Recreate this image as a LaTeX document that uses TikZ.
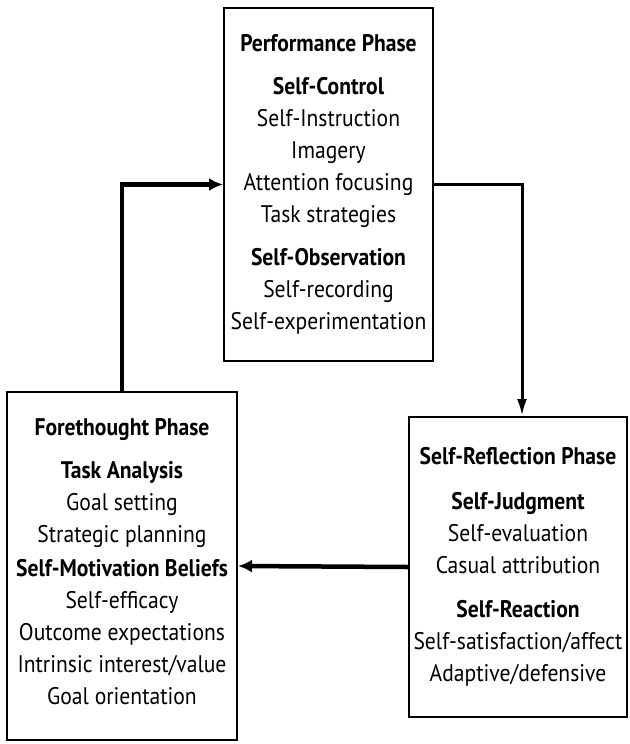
\documentclass[tikz,border=0pt]{standalone}
\usepackage{fontspec}
\setmainfont{PT Sans}[FakeStretch=0.9]
\usetikzlibrary{arrows.meta}

\tikzset{
  phase/.style={draw=black, line width=2pt, fill=white, align=center,
    inner sep=0pt, font=\fontsize{24}{32}\selectfont},
  flow/.style={line width=4.5pt, -{Latex[length=14pt,width=13pt]}},
  thinflow/.style={line width=3pt, -{Latex[length=17pt,width=10pt]}}
}

\begin{document}
\begin{tikzpicture}[x=1pt, y=-1pt]
  \useasboundingbox (0,0) rectangle (629,744);

  % the three phases of the cycle
  \node[phase, minimum width=209pt, minimum height=353pt] (perf) at (328.5,184.5)
    {\textbf{Performance Phase}\\[11pt]
     \textbf{Self-Control}\\
     Self-Instruction\\
     Imagery\\
     Attention focusing\\
     Task strategies\\[11pt]
     \textbf{Self-Observation}\\
     Self-recording\\
     Self-experimentation};

  \node[phase, minimum width=230pt, minimum height=348pt] (fore) at (122,566)
    {\textbf{Forethought Phase}\\[11pt]
     \textbf{Task Analysis}\\
     Goal setting\\
     Strategic planning\\[2pt]
     \textbf{Self-Motivation Beliefs}\\
     Self-efficacy\\
     Outcome expectations\\
     Intrinsic interest/value\\
     Goal orientation\\[-22pt]\mbox{}};

  \node[phase, minimum width=218pt, minimum height=300pt] (refl) at (518,567)
    {\textbf{Self-Reflection Phase}\\[13pt]
     \textbf{Self-Judgment}\\
     Self-evaluation\\
     Casual attribution\\[12pt]
     \textbf{Self-Reaction}\\
     Self-satisfaction/affect\\
     Adaptive/defensive};

  % cyclic connections
  \draw[flow] (fore.north) |- (perf.west);
  \draw[thinflow] (perf.east) -| ([xshift=4pt]refl.north);
  \draw[flow] (refl.west) -- (fore.east);
\end{tikzpicture}
\end{document}
